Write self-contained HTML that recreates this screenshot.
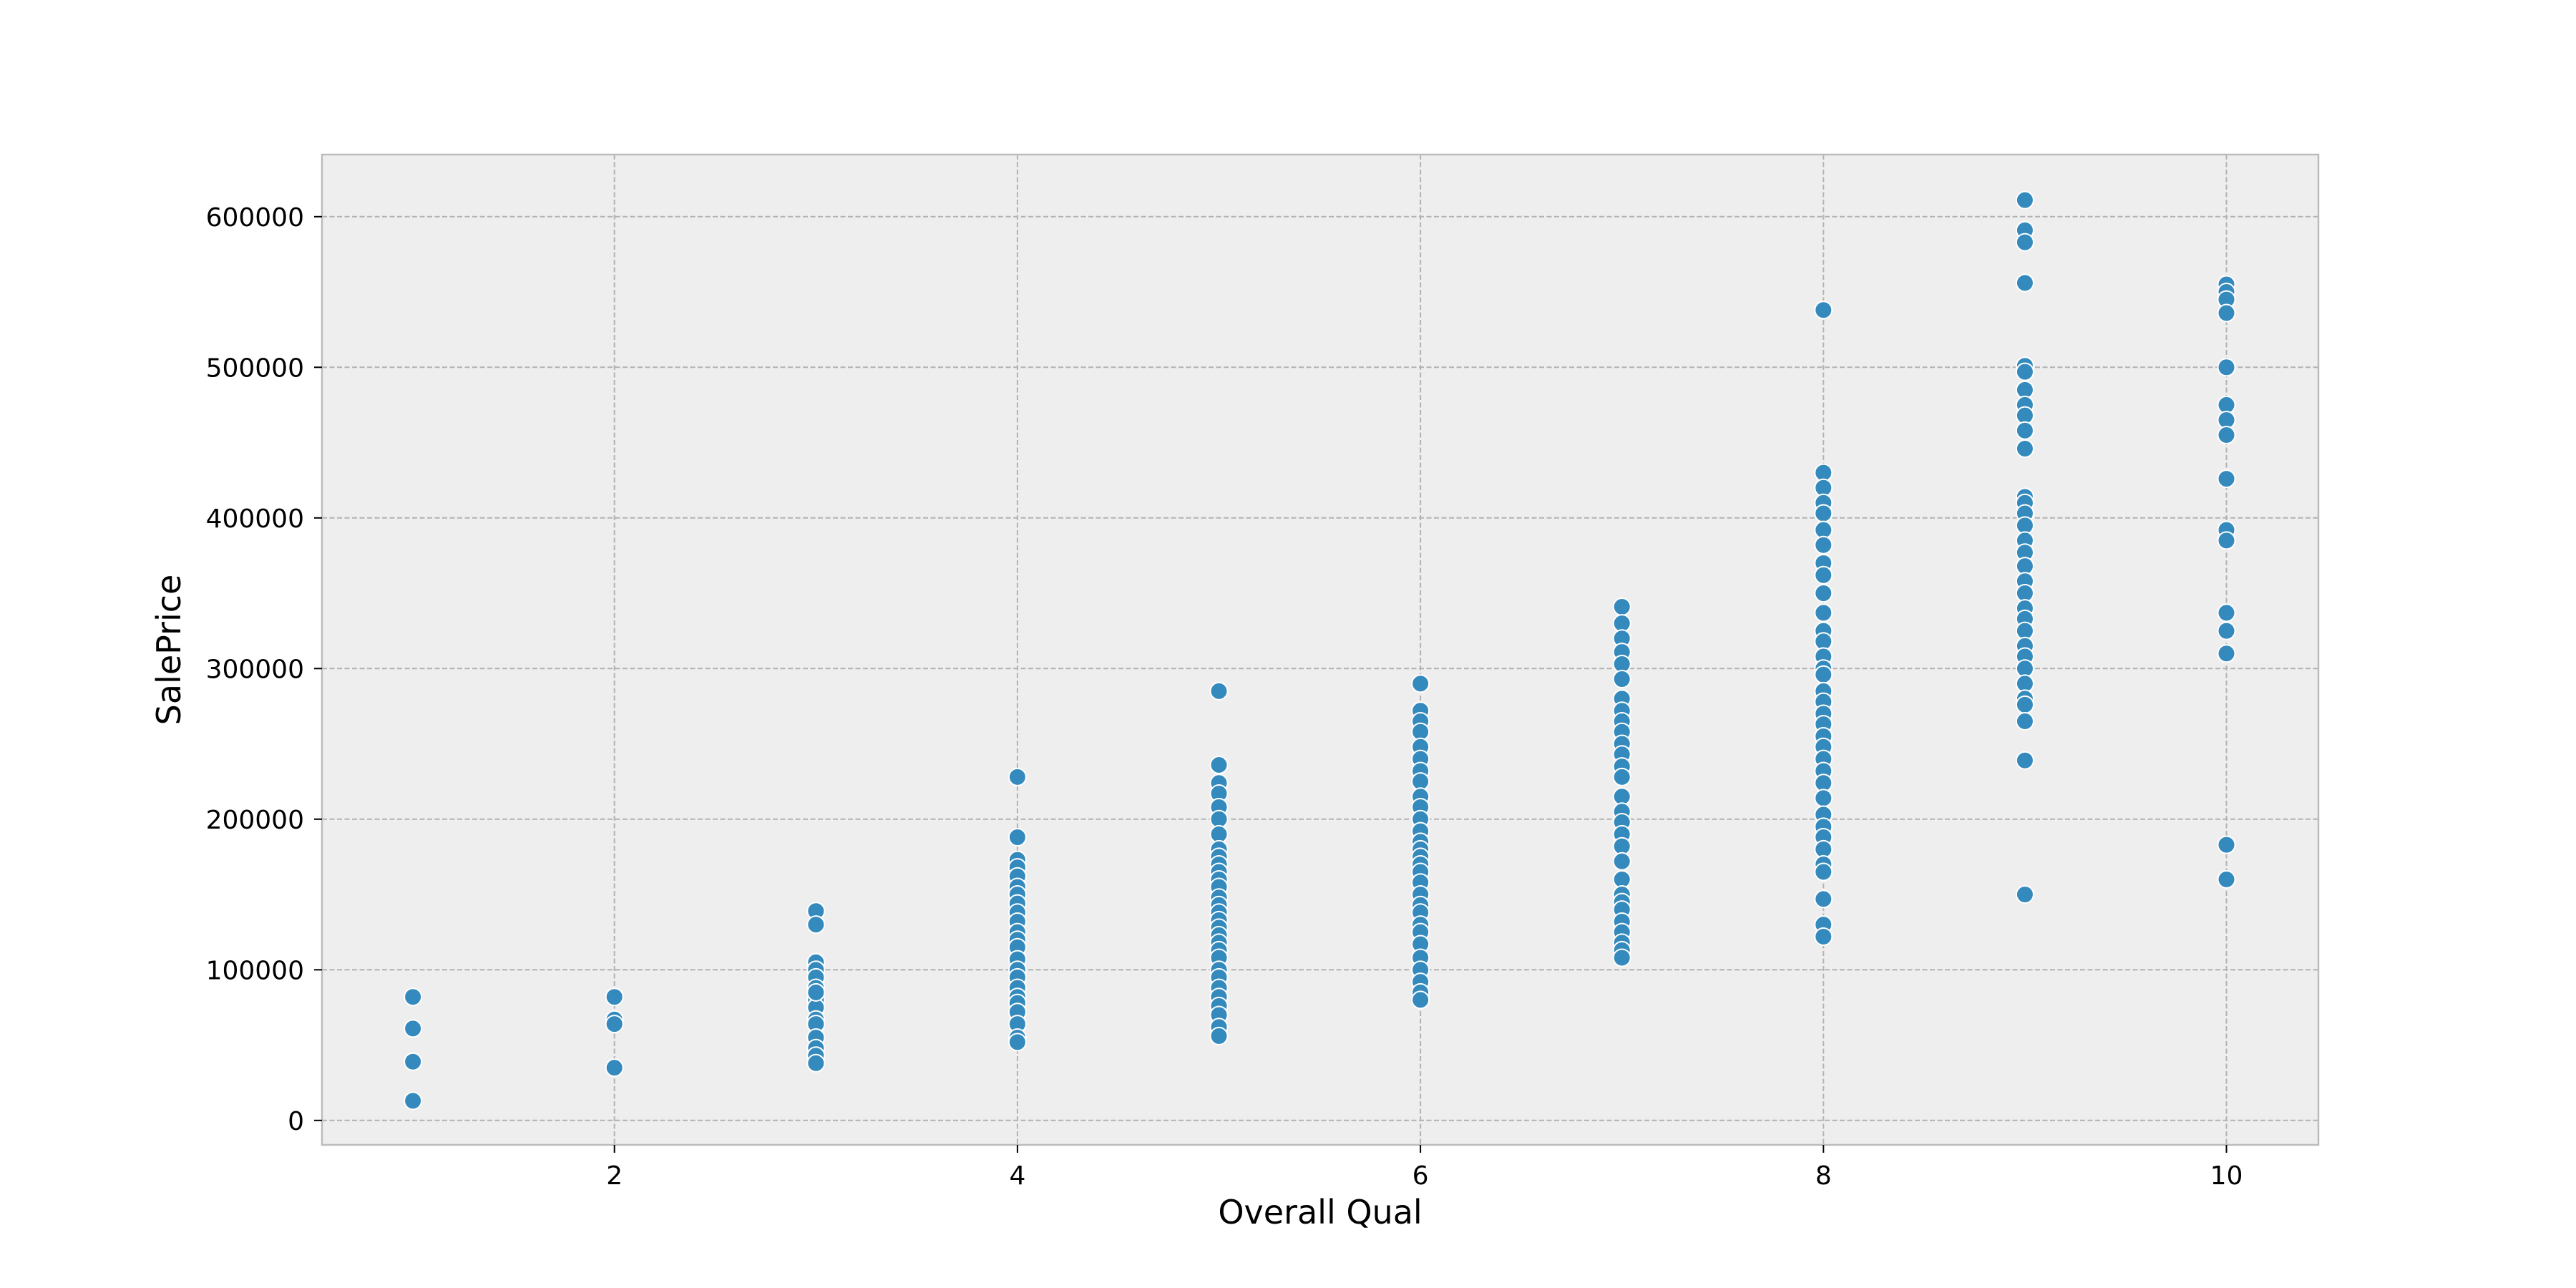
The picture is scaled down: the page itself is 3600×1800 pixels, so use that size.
<!DOCTYPE html>
<html><head><meta charset="utf-8"><style>
html,body{margin:0;padding:0;background:#fff;}
svg{display:block;font-family:"DejaVu Sans","Liberation Sans",sans-serif;}
</style></head><body>
<svg id="chart" width="3600" height="1800" viewBox="0 0 3600 1800" xmlns="http://www.w3.org/2000/svg">
<rect x="450" y="216" width="2790" height="1384" fill="#eeeeee"/>
<g id="grid"></g>
<g id="pts"></g>
<rect x="450" y="216" width="2790" height="1384" fill="none" stroke="#bcbcbc" stroke-width="2.5"/>
<g id="ticks"></g>
<text x="1845" y="1710" font-size="46" text-anchor="middle" fill="#000">Overall Qual</text>
<text transform="translate(252,908) rotate(-90)" font-size="46" text-anchor="middle" fill="#000">SalePrice</text>
</svg>
<script>
const xTicks = [2, 4, 6, 8, 10];
const yTicks = [0, 100000, 200000, 300000, 400000, 500000, 600000];
const q1 = [82000, 61000, 39000, 13000];
const q2 = [82000, 67000, 64000, 35000];
const q3 = [139000,130000,105000,100000,95000,88000,80000,75000,67000,64000,55000,48000,43000,38000,85000];
const q4 = [228000,188000,173000,168000,162000,155000,150000,144000,138000,132000,125000,120000,115000,107000,100000,95000,88000,82000,78000,72000,64000,55000,52000];
const q5 = [285000,236000,224000,217000,208000,200000,190000,180000,175000,170000,165000,160000,155000,148000,143000,138000,133000,128000,123000,118000,113000,108000,100000,95000,88000,82000,76000,70000,62000,56000];
const q6 = [290000,272000,265000,258000,248000,240000,232000,225000,215000,208000,200000,192000,185000,180000,175000,170000,165000,158000,150000,143000,138000,130000,125000,117000,108000,100000,92000,85000,80000];
const q7 = [341000,330000,320000,311000,303000,293000,280000,272000,265000,258000,250000,243000,235000,228000,215000,205000,198000,190000,182000,172000,160000,150000,145000,140000,132000,125000,118000,113000,108000];
const q8 = [538000,430000,420000,410000,403000,392000,382000,370000,362000,350000,337000,325000,318000,308000,300000,296000,285000,278000,270000,263000,255000,248000,240000,232000,224000,214000,203000,195000,188000,180000,170000,165000,147000,130000,122000];
const q9 = [611000,591000,583000,556000,501000,497000,485000,475000,468000,458000,446000,414000,410000,403000,395000,385000,377000,368000,358000,350000,340000,333000,325000,315000,308000,300000,290000,280000,276000,265000,239000,150000];
const q10 = [555000,550000,545000,536000,500000,475000,465000,455000,426000,392000,385000,337000,325000,310000,183000,160000];
const groups = [q1,q2,q3,q4,q5,q6,q7,q8,q9,q10];

const NS = "http://www.w3.org/2000/svg";
function xs(v){ return 858.7 + (v - 2) * 281.6; }
function ys(v){ return 1565.8 - v / 100000 * 210.5; }
function mk(tag, attrs, parent){ const e = document.createElementNS(NS, tag); for (const k in attrs) e.setAttribute(k, attrs[k]); parent.appendChild(e); return e; }
const grid = document.getElementById('grid'), ticks = document.getElementById('ticks'), pts = document.getElementById('pts');

xTicks.forEach(t => {
  const l = mk('line', {x1: xs(t), x2: xs(t), y1: 216, y2: 1600, stroke: '#b2b2b2', 'stroke-width': 2, 'stroke-dasharray': '7,3.5'}, grid);
  
  
  const tk = mk('line', {x1: xs(t), x2: xs(t), y1: 1600, y2: 1611, stroke: '#000', 'stroke-width': 2}, ticks);
  
  
  const tx = mk('text', {x: xs(t), y: 1655, 'font-size': 36, 'text-anchor': 'middle', fill: '#000'}, ticks);
  tx.textContent = t;
  
  
});
yTicks.forEach(t => {
  const l = mk('line', {x1: 450, x2: 3240, y1: ys(t), y2: ys(t), stroke: '#b2b2b2', 'stroke-width': 2, 'stroke-dasharray': '7,3.5'}, grid);
  
  
  const tk = mk('line', {x1: 439, x2: 450, y1: ys(t), y2: ys(t), stroke: '#000', 'stroke-width': 2}, ticks);
  
  
  const tx = mk('text', {x: 425, y: ys(t) + 13, 'font-size': 36, 'text-anchor': 'end', fill: '#000'}, ticks);
  tx.textContent = t;
  
  
});
groups.forEach((g, i) => {
  g.forEach(v => {
    const c = mk('circle', {cx: xs(i + 1), cy: ys(v), r: 12, fill: '#348abd', stroke: '#ffffff', 'stroke-width': 2}, pts);
    
    
  });
});
</script>
</body></html>
